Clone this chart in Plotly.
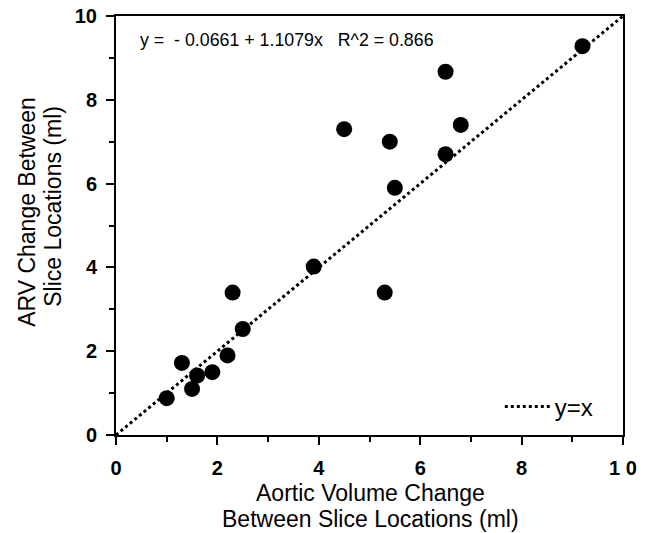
import plotly.graph_objects as go

aortic_change = [1.0, 1.3, 1.5, 1.6, 1.9, 2.2, 2.5, 2.3, 3.9, 5.3, 4.5, 5.4, 5.5, 6.5, 6.8, 6.5, 9.2]
arv_change = [0.88, 1.72, 1.10, 1.42, 1.50, 1.90, 2.53, 3.40, 4.02, 3.40, 7.30, 7.00, 5.90, 6.70, 7.40, 8.67, 9.28]
identity_x = [0, 10]
identity_y = [0, 10]
x_tick_vals = [0, 2, 4, 6, 8, 10]
x_tick_labels = ["0", "2", "4", "6", "8", "1 0"]
y_tick_vals = [0, 2, 4, 6, 8, 10]
y_tick_labels = ["0", "2", "4", "6", "8", "10"]
fit_text = "y =  - 0.0661 + 1.1079x   R^2 = 0.866"
x_title_lines = ["Aortic Volume Change", "Between Slice Locations (ml)"]
y_title_lines = ["ARV Change Between", "Slice Locations (ml)"]

FONT = "Liberation Sans, Arial, Helvetica, sans-serif"

fig = go.Figure()
fig.add_trace(go.Scatter(
    x=identity_x, y=identity_y, mode="lines", name="y=x",
    line=dict(color="black", width=3, dash="dot"), showlegend=True,
))
fig.add_trace(go.Scatter(
    x=aortic_change, y=arv_change, mode="markers", showlegend=False,
    marker=dict(color="black", size=16, line=dict(width=0)),
))

axis_common = dict(
    showline=True, linecolor="black", linewidth=2, mirror=True, automargin=False,
    showgrid=False, zeroline=False, ticks="outside", ticklen=8, tickwidth=2,
    tickcolor="black", range=[0, 10], ticklabeloverflow="allow",
    tickfont=dict(family=FONT, size=20, color="black"),
    minor=dict(ticks="outside", dtick=1, ticklen=5, tickwidth=2, tickcolor="black", showgrid=False),
)

TITLE_SIZE = 23
annots = [
    dict(text=fit_text, x=0.043, y=0.943, xanchor="left", yanchor="middle",
         font=dict(family=FONT, size=17.8, color="black")),
    dict(text=x_title_lines[0], x=0.501, y=-0.138, xanchor="center", yanchor="middle",
         font=dict(family=FONT, size=TITLE_SIZE, color="black")),
    dict(text=x_title_lines[1], x=0.501, y=-0.200, xanchor="center", yanchor="middle",
         font=dict(family=FONT, size=TITLE_SIZE, color="black")),
    dict(text=y_title_lines[0], x=-0.176, y=0.532, xanchor="center", yanchor="middle",
         textangle=-90, font=dict(family=FONT, size=TITLE_SIZE, color="black")),
    dict(text=y_title_lines[1], x=-0.124, y=0.545, xanchor="center", yanchor="middle",
         textangle=-90, font=dict(family=FONT, size=TITLE_SIZE, color="black")),
]
for a in annots:
    a.update(xref="paper", yref="paper", showarrow=False)

fig.update_layout(
    width=650, height=533,
    margin=dict(l=116, r=27, t=16, b=98),
    paper_bgcolor="white", plot_bgcolor="white",
    font=dict(family=FONT, color="black"),
    xaxis=dict(axis_common, tickmode="array", tickvals=x_tick_vals,
               ticktext=[f"<b>{t}</b>" for t in x_tick_labels], ticklabelstandoff=6),
    yaxis=dict(axis_common, tickmode="array", tickvals=y_tick_vals,
               ticktext=[f"<b>{t}</b>" for t in y_tick_labels], ticklabelstandoff=5),
    legend=dict(x=0.757, y=0.067, xanchor="left", yanchor="middle",
                bgcolor="rgba(0,0,0,0)", font=dict(family=FONT, size=24, color="black"),
                itemwidth=45),
    annotations=annots,
)

fig.write_html("out.html", config={"displayModeBar": False},
               post_script="document.body.style.margin='0';")
